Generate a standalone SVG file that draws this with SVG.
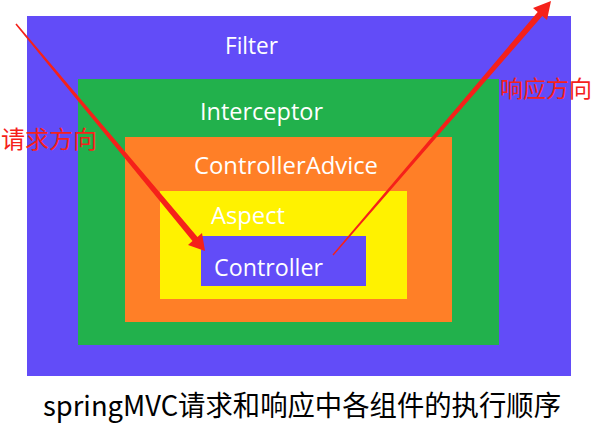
<svg xmlns="http://www.w3.org/2000/svg" width="593" height="427" viewBox="0 0 593 427">
<style>
.lbl{font-family:"Open Sans","Noto Sans",sans-serif;font-size:23.5px;fill:#ffffff}
.red{font-family:"Noto Sans CJK SC",sans-serif;fill:#f5211a}
.cap{font-family:"Noto Sans CJK SC",sans-serif;font-size:28px;fill:#000000}
.arrow{fill:#f5211a}
</style>
<rect width="593" height="427" fill="#ffffff"/>
<g id="filter">
<rect x="27" y="16" width="544" height="360" fill="#624cf8"/>
<text class="lbl" x="225" y="54" textLength="53" lengthAdjust="spacingAndGlyphs">Filter</text>
</g>
<g id="interceptor">
<rect x="78" y="79" width="421" height="266" fill="#22b14c"/>
<text class="lbl" x="200" y="120" textLength="123" lengthAdjust="spacingAndGlyphs">Interceptor</text>
</g>
<g id="controlleradvice">
<rect x="125" y="137" width="327" height="185" fill="#ff7f27"/>
<text class="lbl" x="194" y="174" textLength="184" lengthAdjust="spacingAndGlyphs">ControllerAdvice</text>
</g>
<g id="aspect">
<rect x="160" y="191" width="247" height="108" fill="#fff200"/>
<text class="lbl" x="211" y="224" textLength="74" lengthAdjust="spacingAndGlyphs">Aspect</text>
</g>
<g id="controller">
<rect x="201" y="236" width="165" height="50" fill="#624cf8"/>
<text class="lbl" x="214" y="276" textLength="109" lengthAdjust="spacingAndGlyphs">Controller</text>
</g>
<g id="connectors">
<polygon class="arrow" points="16.6,23.5 197.5,237 202,233 205,251 188,245 192.5,241 15.4,24.5"/>
<polygon class="arrow" points="333.5,255.5 542.3,16 547,20 551,1 533,8 537.7,12 332.5,254.5"/>
<text class="red" x="1" y="148" font-size="24">请求方向</text>
<text class="red" x="500" y="97" font-size="23">响应方向</text>
</g>
<g id="caption">
<text class="cap" x="43" y="416" textLength="518" lengthAdjust="spacingAndGlyphs">springMVC请求和响应中各组件的执行顺序</text>
</g>
</svg>
